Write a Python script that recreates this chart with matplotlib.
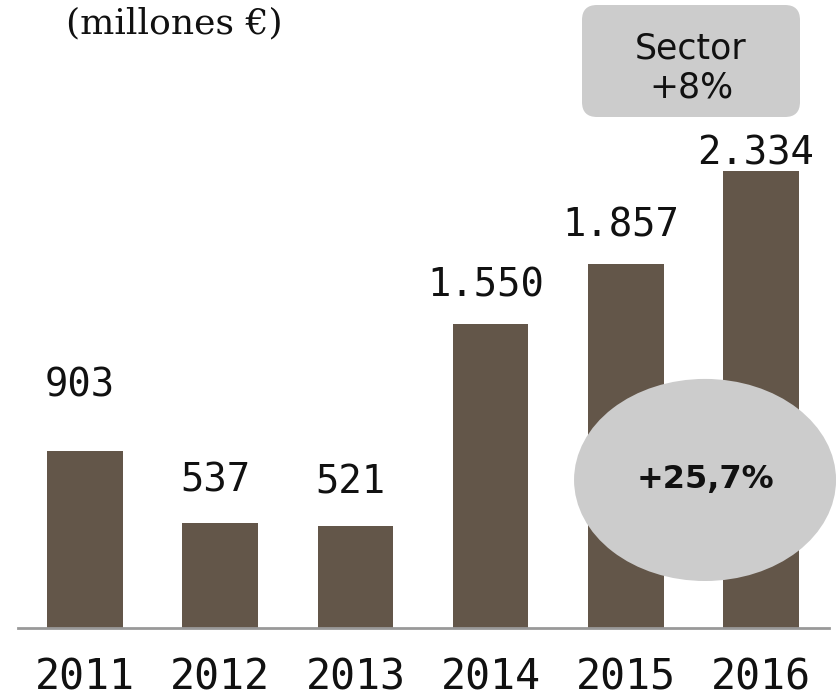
import matplotlib.pyplot as plt
from matplotlib.patches import Ellipse, FancyBboxPatch

# data
years = ['2011', '2012', '2013', '2014', '2015', '2016']
values = [903, 537, 521, 1550, 1857, 2334]
value_labels = ['903', '537', '521', '1.550', '1.857', '2.334']
growth_label = '+25,7%'
sector_label = 'Sector\n+8%'

# gap between bar top and its label (pixels)
label_gap = [47, 23, 24, 20, 20, -2]

bar_color = '#635649'
grey = '#cccccc'

fig = plt.figure(figsize=(8.37, 6.98), dpi=100)
ax = fig.add_axes([0, 70 / 698, 1, 628 / 698])

x = list(range(len(years)))
ax.bar(x, values, width=0.56, color=bar_color, zorder=2)

ax.set_xlim(-0.629, 5.562)
ax.set_ylim(0, 3207)
ax.axis('off')

# baseline
ax.plot([-0.497, 5.503], [0, 0], color='#999999', lw=2, zorder=3, clip_on=False)

# value labels above bars
for xi, v, lab, gap in zip(x, values, value_labels, label_gap):
    ax.annotate(lab, (xi, v), xytext=(-5 * 0.72, gap * 0.72), textcoords='offset points',
                ha='center', va='bottom', fontsize=28, family='DejaVu Sans Mono',
                color='#111111')

# year labels under the axis
for xi, yr in zip(x, years):
    ax.annotate(yr, (xi, 0), xytext=(0, -49 * 0.72), textcoords='offset points',
                ha='center', va='center', fontsize=30, family='DejaVu Sans Mono',
                color='#111111', annotation_clip=False)

# growth ellipse over last bars
ell = Ellipse((4.586, 756), width=1.938, height=1032, facecolor=grey,
              edgecolor='none', zorder=4)
ax.add_patch(ell)
ax.text(4.586, 756, growth_label, ha='center', va='center', fontsize=23,
        fontweight='bold', color='#111111', zorder=5)

# sector box (figure inches)
box = FancyBboxPatch((5.97, 5.96), 1.88, 0.82,
                     boxstyle='round,pad=0.15', facecolor=grey, edgecolor='none',
                     transform=fig.dpi_scale_trans, zorder=4)
fig.patches.append(box)
fig.text(6.91 / 8.37, 6.30 / 6.98, sector_label, ha='center', va='center',
         fontsize=25, color='#111111', linespacing=1.15, zorder=5)

fig.text(66 / 837, 1 - 23 / 698, '(millones €)', ha='left', va='center',
         fontsize=26, family='DejaVu Serif', color='#111111')

plt.savefig('out.png', dpi=100)
